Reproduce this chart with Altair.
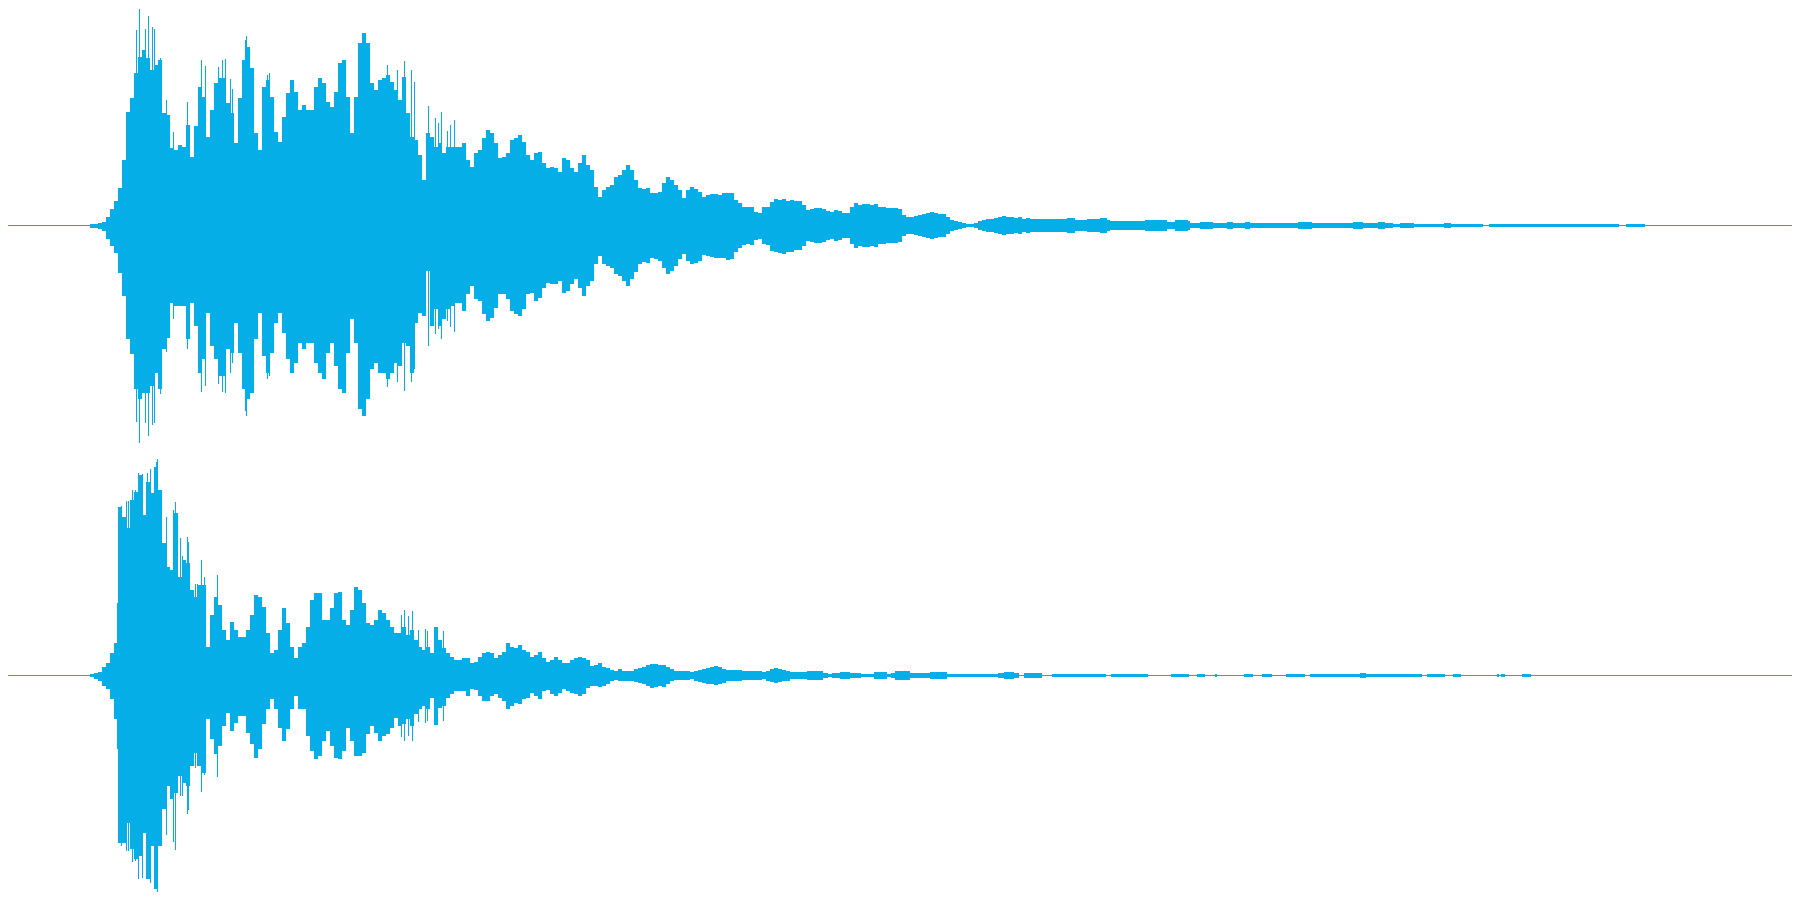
import math
import altair as alt
import pandas as pd

COLOR = "#06AEE7"
CENTERS = {"ch1": 225.5, "ch2": 675.5}

# Envelope: amplitude above / below each channel's zero line.
CH1_UP_A = [1,1,2,3,8,16,24,37,65,113,127,152,168,175,167,155,160,165,112,110,77,75,80,78,100,68,99,138,128,88,115,142,147,147,122,112,82,127,165,178,157,92,75,138,145,128,93,83,108,132,145,133,115,120,115,115,138,147,142,123,118,133,162,165,128,92,128,182,192,182,142,135,145,147,150,143,135,125,148,112,88,85,70,45,92,88,78,82,72,78,78,78]
CH1_LO_A = [2,2,3,5,13,20,27,47,70,113,128,163,173,167,167,160,147,163,123,112,77,80,80,80,113,77,100,147,133,87,120,133,150,150,123,127,97,127,163,173,167,113,87,130,147,127,97,87,107,133,147,137,117,123,117,117,137,147,153,127,117,140,163,167,127,93,117,183,190,173,143,137,147,147,153,147,137,140,117,120,147,97,87,90,45,100,83,100,93,83,80,77]
CH1_UP_B = [82,65,58,72,75,87,95,92,82,67,68,72,85,87,90,83,70,65,72,73,62,57,58,57,53,67,65,57,53,62,70,60,55,38,28,35,38,40,48,50,55,60,55,45,37,36,37,32,32,33,42,48,45,40,35,27,35,38,36,33,28,30,31,31,30,32,32,32,25,22,18,18,18,13,12,18,18,23,26,25,26,24,25,24]
CH1_LO_B = [85,68,60,73,75,88,95,92,82,68,68,73,85,88,90,83,68,67,75,72,62,57,58,58,55,67,65,58,53,62,70,60,55,38,30,38,40,42,48,50,55,60,53,46,38,36,37,32,33,35,42,48,45,40,33,28,35,38,37,35,29,30,31,32,32,32,34,33,26,22,19,18,19,14,13,18,19,25,26,27,28,26,26,24]
CH1_C = [20,15,16,17,17,16,14,13,15,14,12,12,18,22,20,21,21,20,21,18,18,17,17,17,16,10,8,8,9,10,11,12,13,12,11,11,8,5,4,3,2,1,1,2,4,5,6,6,7,8,9,8,8,7,8,6,7]
CH1_TAIL_T = [1030,1067,1075,1087,1100,1107,1110,1145,1165,1167,1175,1188,1190,1200,1213,1227,1233,1240,1245,1250,1298,1312,1345,1353,1363,1367,1372,1378,1385,1393,1400,1414,1444,1451,1483,1489,1619,1626,1645,1792]
CH1_TAIL = [6,7,5.5,6,7,5,4.5,5,5.5,3.5,5,4,2.5,3.5,2,3.5,2.5,2,3.5,2,3.5,2.5,2,3.5,2.5,2,2.5,3.5,2.5,1.5,2.5,1.5,2.5,1.5,0.5,1.5,0.5,1.5,0.5,0.5]

CH2_UP_A = [1,2,3,8,12,22,32,168,158,147,175,183,200,160,193,182,208,185,132,108,105,162,98,115,112,85,78,90,90,28,60,78,70,45,35,53,45,38,38,45,60,80,78,68,42,22,25,45,67,52,28,17,28,32,48,75,82,82,55,55,67,82,83,55,50,65,88,85,72,52,50,55,65,62,55,48,42,42,48,40,45,35,28,25,28,22,48,35,27,22,18,15]
CH2_LO_A = [1,3,5,10,13,23,43,167,167,147,173,183,180,157,203,170,213,170,133,110,123,117,100,107,110,90,77,90,97,43,63,78,70,50,37,55,47,40,40,57,68,82,73,48,33,23,33,52,65,53,33,20,33,33,60,75,83,80,65,55,70,82,83,75,52,65,80,80,77,58,50,57,65,60,58,52,42,50,48,43,50,38,33,30,33,22,49,32,30,22,18,15]
CH2_UP_B = [17,17,12,13,18,22,23,22,17,20,23,32,28,27,30,25,23,18,20,23,17,13,15,18,15,12,12,15,17,18,17,15,9,10,12,8,7,5,4,6,4,4,4,6,7,8,10,11,11,10,10,8,6,4,4,4,4,3,4,5,6,7,8,9,8,6,5,5,5,5,4,4,4,4,4,3,4,6,7,6,5,4,3,3]
CH2_LO_B = [15,20,13,14,20,25,25,20,18,22,25,33,30,27,28,23,22,17,20,23,15,14,18,20,17,13,15,17,18,20,18,12,10,10,11,10,8,5,4,5,5,5,5,6,7,8,10,12,11,10,11,8,5,4,4,4,4,3,5,6,7,8,8,9,8,7,5,5,5,5,4,4,4,4,4,3,5,6,7,6,5,5,3,3]
CH2_TAIL_T = [802,807,823,828,832,840,850,861,874,887,891,895,910,930,947,960,988,998,1004,1014,1019,1024,1042,1052,1106,1111,1148,1171,1189,1197,1205,1215,1217,1244,1253,1262,1272,1286,1305,1310,1360,1366,1422,1427,1445,1453,1461,1497,1499,1501,1505,1522,1531,1792]
CH2_TAIL = [3,4,2.5,1,2.5,3.5,2.5,1.5,3,1,2,4,2.5,3,1,1.5,1,2,3,2,0.5,2,0.5,1.5,0.5,1.5,0.5,1.5,0.5,1.5,0.5,1.5,0.5,1.5,0.5,1.5,0.5,1.5,0.5,1.5,2.5,1.5,0.5,1.5,0.5,1.5,0.5,1.5,0.5,1.5,0.5,1.5,0.5,0.5]

# Single-sample peaks poking out of the envelope.
CH1_SPIKE_T = [136,139,145,148,152,154,160,166,173,187,201,205,218,222,225,230,232,245,246,267,269,387,397,404,411,414,428,435,438,441,447,450,454]
CH1_SPIKE_UP = [195,216,196,209,198,196,167,125,93,123,165,159,158,165,166,146,136,185,189,150,152,160,155,164,155,143,119,107,102,113,94,100,105]
CH1_SPIKE_LO = [196,217,197,210,199,197,168,126,93,123,166,160,158,166,167,147,137,185,190,153,150,161,156,165,156,143,120,108,103,113,95,101,106]
CH2_SPIKE_T = [117,121,126,128,132,135,138,142,147,150,155,156,157,166,173,175,180,182,187,188,195,197,201,204,217,401,404,408,412,418,425,427,435,443]
CH2_SPIKE_UP = [72,169,174,174,185,185,202,201,202,206,208,213,216,158,165,173,137,119,138,133,91,91,115,98,100,60,65,59,64,45,46,44,48,44]
CH2_SPIKE_LO = [73,170,175,175,186,185,203,202,203,207,205,212,217,159,166,174,120,120,138,134,92,90,116,99,101,61,65,60,65,46,47,45,49,45]


def grid(start, values):
    return [start + 4 * i for i in range(len(values))]


def rows(channel, side, parts):
    c = CENTERS[channel]
    out = []
    for times, amps in parts:
        for t, a in zip(times, amps):
            if side == "up":
                out.append({"half": channel + side, "t": t, "edge": math.floor(c - a), "zero": c})
            else:
                out.append({"half": channel + side, "t": t, "edge": c, "zero": math.ceil(c + a)})
    return out


table = (
    rows("ch1", "up", [(grid(90, CH1_UP_A), CH1_UP_A), (grid(462, CH1_UP_B), CH1_UP_B), (grid(802, CH1_C), CH1_C), (CH1_TAIL_T, CH1_TAIL)])
    + rows("ch1", "lo", [(grid(90, CH1_LO_A), CH1_LO_A), (grid(462, CH1_LO_B), CH1_LO_B), (grid(802, CH1_C), CH1_C), (CH1_TAIL_T, CH1_TAIL)])
    + rows("ch2", "up", [(grid(90, CH2_UP_A), CH2_UP_A), (grid(462, CH2_UP_B), CH2_UP_B), (CH2_TAIL_T, CH2_TAIL)])
    + rows("ch2", "lo", [(grid(90, CH2_LO_A), CH2_LO_A), (grid(462, CH2_LO_B), CH2_LO_B), (CH2_TAIL_T, CH2_TAIL)])
)

spikes = []
for ch, ts, ups, los in (("ch1", CH1_SPIKE_T, CH1_SPIKE_UP, CH1_SPIKE_LO), ("ch2", CH2_SPIKE_T, CH2_SPIKE_UP, CH2_SPIKE_LO)):
    for t, u, l in zip(ts, ups, los):
        spikes.append({"t": t + 0.5, "top": math.floor(CENTERS[ch] - u), "bottom": math.ceil(CENTERS[ch] + l)})

zero_lines = pd.DataFrame([{"t0": 8, "t1": 1792, "level": CENTERS["ch1"]}, {"t0": 8, "t1": 1792, "level": CENTERS["ch2"]}])

x_scale = alt.Scale(domain=[8, 1792], nice=False, zero=False)
y_scale = alt.Scale(domain=[892, 8], nice=False, zero=False)

areas = alt.Chart(pd.DataFrame(table)).mark_area(interpolate="step-after", color=COLOR, opacity=1).encode(
    x=alt.X("t:Q", scale=x_scale, axis=None),
    y=alt.Y("edge:Q", scale=y_scale, axis=None),
    y2="zero:Q",
    detail="half:N",
)
peaks = alt.Chart(pd.DataFrame(spikes)).mark_rule(color=COLOR, strokeWidth=1, opacity=1).encode(
    x=alt.X("t:Q", scale=x_scale, axis=None),
    y=alt.Y("top:Q", scale=y_scale, axis=None),
    y2="bottom:Q",
)
zero = alt.Chart(zero_lines).mark_rule(color=COLOR, strokeWidth=1, opacity=1).encode(
    x=alt.X("t0:Q", scale=x_scale, axis=None),
    x2="t1:Q",
    y=alt.Y("level:Q", scale=y_scale, axis=None),
)

chart = (
    alt.layer(zero, areas, peaks)
    .properties(width=1784, height=884, padding=0, autosize=alt.AutoSizeParams(type="none"), background="white")
    .configure_view(stroke=None)
)

chart.save("out.html", embed_options={"renderer": "svg", "actions": False})
